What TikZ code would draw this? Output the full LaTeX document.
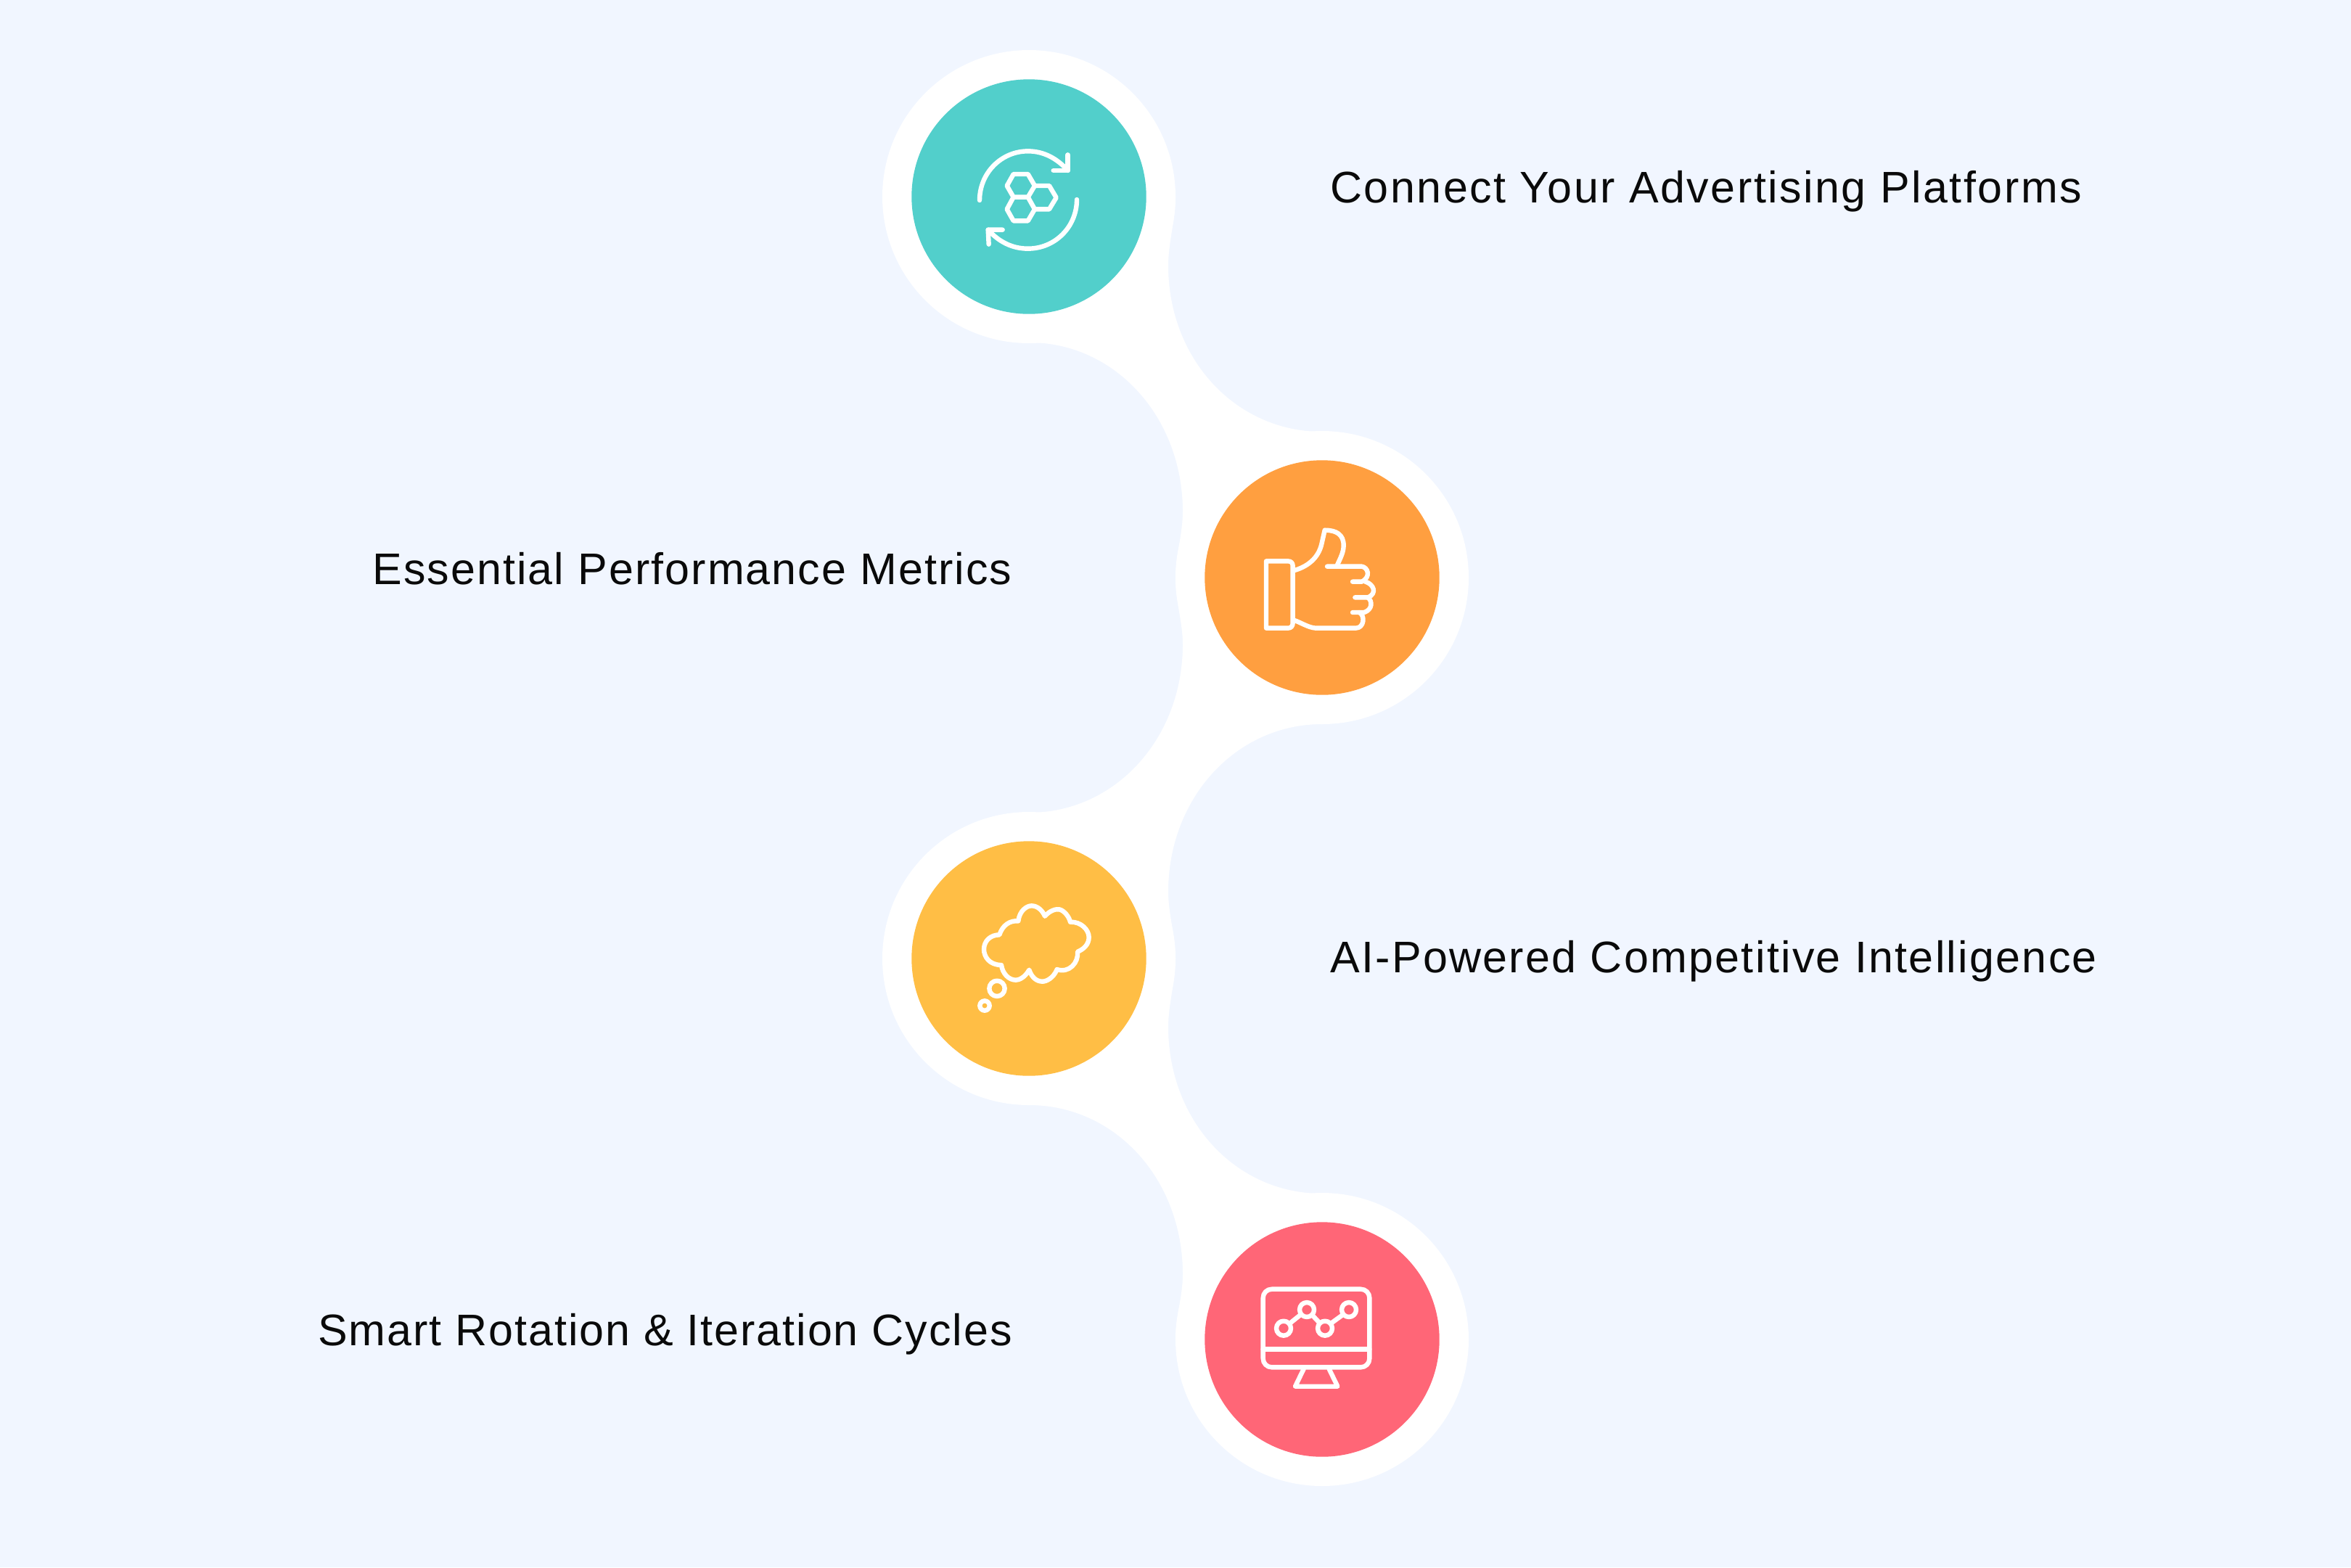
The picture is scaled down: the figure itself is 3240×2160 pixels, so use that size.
\documentclass[tikz,border=0pt]{standalone}
\usepackage{fontspec}
\setmainfont{Liberation Sans}
\definecolor{bgc}{RGB}{241,246,255}
\definecolor{teal1}{RGB}{82,207,203}
\definecolor{orange1}{RGB}{255,159,64}
\definecolor{yellow1}{RGB}{255,190,69}
\definecolor{pink1}{RGB}{255,102,119}
\definecolor{ink}{RGB}{10,10,10}
\tikzset{
  disc/.style={circle,draw=none,minimum size=161.7pt,inner sep=0pt},
  halo/.style={circle,draw=none,fill=white,minimum size=202pt,inner sep=0pt},
  icon/.style={draw=white,line width=3.2pt,line cap=round,line join=round},
  lab/.style={inner sep=0pt,text=ink,font=\fontsize{30.5pt}{36pt}\selectfont}
}
\begin{document}
\begin{tikzpicture}[x=0.5pt,y=-0.5pt]
\useasboundingbox (0,0) rectangle (3240,2160);
\fill[bgc] (0,0) rectangle (3240,2160);
% white ribbon
\node[halo] (h1) at (1418,271) {};
\node[halo] (h2) at (1822,796) {};
\node[halo] (h3) at (1418,1321) {};
\node[halo] (h4) at (1822,1846) {};
\fill[white] (1418,271) -- (1620,271)
  .. controls (1620,303) and (1610,334) .. (1610,366)
  .. controls (1610,495) and (1703,595) .. (1822,595)
  -- (1822,998)
  .. controls (1703,998) and (1610,1100) .. (1610,1229)
  .. controls (1610,1260) and (1620,1290) .. (1620,1321)
  .. controls (1620,1352) and (1610,1384) .. (1610,1415)
  .. controls (1610,1545) and (1703,1645) .. (1822,1645)
  -- (1822,1846) -- (1620,1846)
  .. controls (1620,1815) and (1630,1787) .. (1630,1756)
  .. controls (1630,1625) and (1537,1523) .. (1418,1523)
  -- (1418,1120)
  .. controls (1537,1120) and (1630,1018) .. (1630,888)
  .. controls (1630,858) and (1620,828) .. (1620,797)
  .. controls (1620,766) and (1630,736) .. (1630,705)
  .. controls (1630,575) and (1537,472) .. (1418,472)
  -- cycle;
% discs
\node[disc,fill=teal1]   (c1) at (1418,271) {};
\node[disc,fill=orange1] (c2) at (1822,796) {};
\node[disc,fill=yellow1] (c3) at (1418,1321) {};
\node[disc,fill=pink1]   (c4) at (1822,1846) {};
% icon 1: rotate + hexagons
\begin{scope}[shift={(1240,160)},x=0.16667pt,y=-0.16667pt]
  \draw[icon] (330,348) .. controls (330,235) and (420,145) .. (530,145) .. controls (595,145) and (650,175) .. (695,225);
  \draw[icon] (695,160) -- (695,225) -- (635,225);
  \draw[icon] (732,345) .. controls (732,458) and (642,548) .. (530,548) .. controls (465,548) and (410,520) .. (365,470);
  \draw[icon] (425,470) -- (365,470) -- (368,530);
  \draw[icon] (470,240) -- (530,240) -- (558,288) -- (530,335) -- (470,335) -- (443,288) -- cycle;
  \draw[icon] (558,288) -- (618,288) -- (647,337) -- (618,385) -- (558,385) -- (530,335);
  \draw[icon] (470,335) -- (443,385) -- (470,433) -- (530,433) -- (558,385);
\end{scope}
% icon 2: thumb
\begin{scope}[shift={(1660,690)},x=0.16667pt,y=-0.16667pt]
  \draw[icon] (255,250) -- (345,250) .. controls (358,250) and (365,258) .. (365,270) -- (365,505) .. controls (365,518) and (358,527) .. (345,527) -- (255,527) -- cycle;
  \draw[icon] (372,288) .. controls (440,268) and (475,225) .. (485,175) -- (497,122) .. controls (545,122) and (575,140) .. (575,185) .. controls (575,215) and (560,240) .. (548,268);
  \draw[icon] (507,272) -- (650,272) .. controls (675,275) and (690,315) .. (650,335) -- (612,335);
  \draw[icon] (665,335) .. controls (700,345) and (715,385) .. (675,400) -- (622,400);
  \draw[icon] (675,400) .. controls (695,415) and (695,450) .. (660,462) -- (612,462);
  \draw[icon] (640,462) .. controls (665,475) and (660,527) .. (625,527) -- (460,527) .. controls (430,525) and (400,505) .. (372,495);
\end{scope}
% icon 3: thought cloud
\begin{scope}[shift={(1300,1220)},x=0.16667pt,y=-0.16667pt]
  \draw[icon] (240,330) .. controls (190,330) and (168,295) .. (168,265) .. controls (168,230) and (195,205) .. (232,205)
    .. controls (245,165) and (275,145) .. (310,148)
    .. controls (315,105) and (345,85) .. (365,85) .. controls (390,85) and (410,105) .. (420,128)
    .. controls (440,105) and (465,97) .. (480,100) .. controls (500,105) and (520,130) .. (525,152)
    .. controls (570,150) and (602,185) .. (602,215) .. controls (602,245) and (580,265) .. (555,275)
    .. controls (560,320) and (520,365) .. (470,348)
    .. controls (455,385) and (425,398) .. (410,398) .. controls (385,398) and (365,380) .. (355,350)
    .. controls (335,385) and (310,392) .. (300,392) .. controls (270,392) and (245,365) .. (240,330) -- cycle;
  \draw[icon] (222,427) circle[radius=32];
  \draw[icon] (171,498) circle[radius=20];
\end{scope}
% icon 4: monitor chart
\begin{scope}[shift={(1700,1750)},x=0.16667pt,y=-0.16667pt]
  \draw[icon,rounded corners=6pt] (122,80) rectangle (562,403);
  \draw[icon] (122,328) -- (562,328);
  \draw[icon] (290,410) -- (255,482) -- (430,482) -- (395,410);
  \draw[icon] (207,242) circle[radius=30];
  \draw[icon] (303,165) circle[radius=30];
  \draw[icon] (378,242) circle[radius=30];
  \draw[icon] (477,165) circle[radius=30];
  \draw[icon] (232,222) -- (278,185);
  \draw[icon] (325,187) -- (356,220);
  \draw[icon] (402,222) -- (453,185);
\end{scope}
% labels
\node[lab,anchor=base west] (t1) at (1833,279) {\addfontfeature{LetterSpace=4.1}Connect Your Advertising Platforms};
\node[lab,anchor=base east] (t2) at (1395,805) {\addfontfeature{LetterSpace=3.4}Essential Performance Metrics};
\node[lab,anchor=base west] (t3) at (1833,1340) {\addfontfeature{LetterSpace=3.76}AI-Powered Competitive Intelligence};
\node[lab,anchor=base east] (t4) at (1395,1854) {\addfontfeature{LetterSpace=3.2}Smart Rotation \& Iteration Cycles};
\end{tikzpicture}
\end{document}
